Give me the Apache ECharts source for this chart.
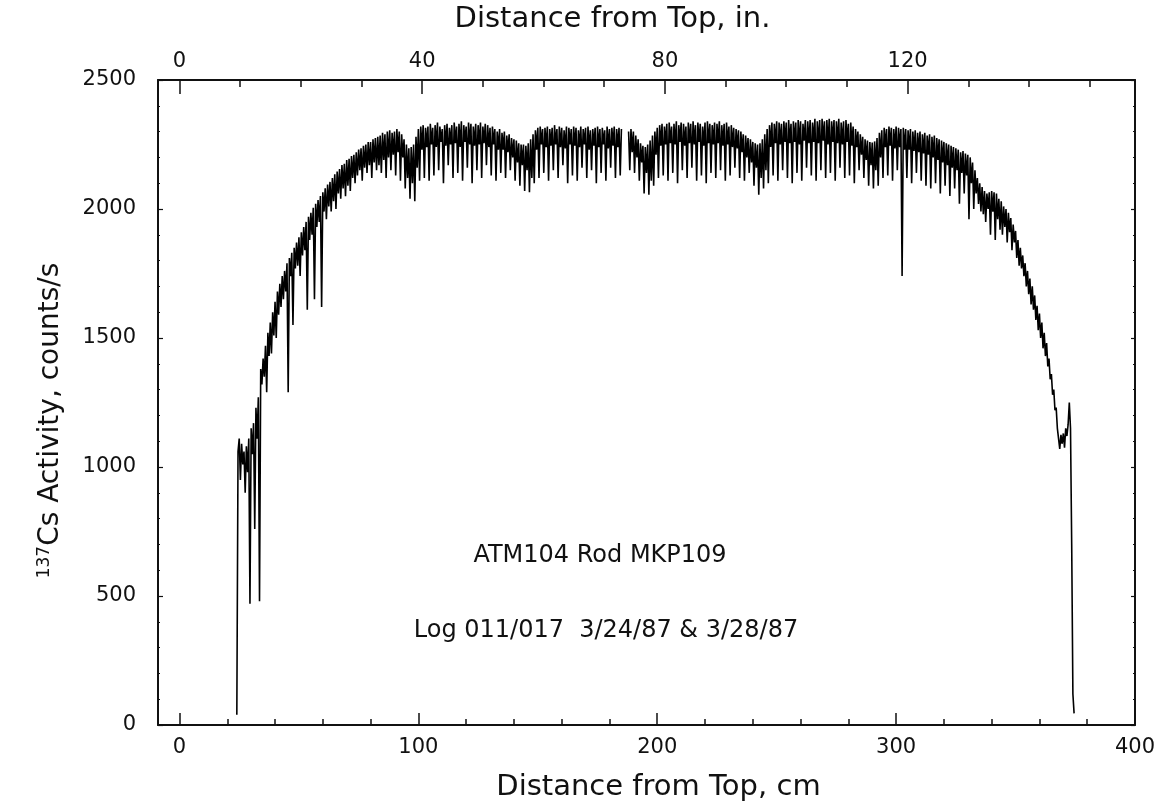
<!DOCTYPE html>
<html>
<head>
<meta charset="utf-8">
<script src="https://cdn.jsdelivr.net/npm/echarts@6/dist/echarts.min.js"></script>
<style>
html,body{margin:0;padding:0;background:#fff;}
#chart{width:1170px;height:811px;}
</style>
</head>
<body>
<div id="chart"></div>
<script>
// ---- data ----
// first sample position (cm); samples every 1 cm for countsAtCm, offset by 0.5 cm for countsAtHalfCm
var distStartCm = 24;
var countsAtCm = [
  40,1110,1090,1060,1080,1110,1150,1170,1230,1270,
  1380,1420,1470,1520,1560,1600,1640,1680,1710,1740,
  1760,1790,1810,1830,1850,1870,1890,1910,1930,1950,
  1970,1985,2005,2020,2035,2050,2065,2080,2095,2105,
  2120,2135,2145,2155,2170,2175,2190,2195,2205,2210,
  2220,2230,2235,2245,2250,2260,2260,2270,2275,2280,
  2285,2295,2290,2300,2305,2295,2300,2310,2300,2290,
  2270,2250,2235,2240,2250,2280,2310,2320,2325,2315,
  2320,2330,2315,2325,2335,2320,2310,2325,2330,2315,
  2325,2335,2320,2330,2340,2325,2320,2335,2330,2320,
  2330,2325,2335,2320,2330,2325,2315,2320,2310,2300,
  2310,2295,2300,2285,2290,2275,2270,2265,2255,2250,
  2250,2245,2255,2270,2290,2305,2315,2320,2310,2315,
  2320,2310,2315,2325,2310,2320,2315,2305,2320,2315,
  2310,2320,2315,2305,2320,2310,2315,2320,2305,2310,
  2315,2320,2310,2315,2305,2320,2310,2315,2320,2310,
  2315,2310,null,null,2300,2310,2300,2285,2270,2255,
  2245,2240,2250,2265,2285,2300,2315,2325,2330,2320,
  2330,2335,2320,2330,2340,2325,2335,2330,2320,2335,
  2330,2340,2325,2335,2330,2320,2335,2340,2330,2325,
  2335,2330,2340,2325,2330,2335,2320,2325,2315,2310,
  2305,2300,2290,2285,2275,2270,2260,2255,2250,2255,
  2270,2290,2310,2325,2335,2330,2340,2335,2330,2340,
  2335,2345,2330,2340,2335,2345,2340,2330,2345,2340,
  2345,2335,2350,2340,2345,2350,2340,2345,2350,2340,
  2345,2340,2350,2335,2340,2345,2330,2335,2320,2310,
  2300,2290,2280,2270,2265,2260,2258,2262,2275,2295,
  2305,2315,2310,2320,2315,2310,2320,2315,2310,2315,
  2310,2305,2310,2300,2305,2295,2300,2290,2295,2285,
  2290,2280,2285,2275,2270,2265,2260,2255,2250,2245,
  2240,2235,2230,2220,2225,2215,2210,2200,2180,2150,
  2120,2100,2085,2070,2060,2065,2070,2065,2060,2040,
  2030,2010,2000,1985,1965,1940,1915,1880,1850,1820,
  1790,1760,1730,1700,1665,1625,1595,1560,1520,1480,
  1420,1360,1300,1230,1150,1125,1130,1150,1165,1150,
  120
];
var countsAtHalfCm = [
  1060,950,1010,900,980,470,1050,760,1110,480,
  1320,1350,1290,1430,1440,1510,1500,1590,1620,1650,
  1680,1290,1740,1550,1770,1780,1740,1820,1840,1610,
  1880,1900,1650,1930,1950,1620,1990,1960,2010,1990,
  2030,2000,2060,2040,2080,2050,2090,2070,2120,2100,
  2130,2150,2110,2160,2140,2170,2120,2180,2150,2170,
  2140,2190,2120,2200,2150,2210,2130,2220,2110,2200,
  2080,2120,2040,2100,2030,2160,2110,2230,2120,2240,
  2110,2250,2130,2240,2150,2260,2100,2245,2170,2250,
  2120,2255,2140,2240,2110,2260,2160,2250,2100,2245,
  2150,2250,2120,2255,2170,2240,2130,2250,2110,2230,
  2140,2230,2120,2220,2150,2200,2110,2180,2090,2170,
  2070,2150,2065,2120,2100,2230,2120,2250,2140,2240,
  2110,2245,2150,2250,2120,2240,2170,2235,2100,2250,
  2130,2245,2110,2240,2160,2250,2120,2230,2150,2245,
  2100,2240,2140,2250,2110,2235,2160,2245,2120,2240,
  2130,null,null,null,2150,2220,2140,2200,2110,2180,
  2060,2140,2055,2110,2090,2210,2120,2245,2130,2250,
  2110,2255,2140,2250,2100,2260,2150,2245,2120,2255,
  2160,2250,2110,2260,2130,2245,2100,2255,2140,2250,
  2120,2255,2150,2245,2110,2250,2130,2240,2160,2235,
  2120,2220,2110,2200,2140,2180,2090,2160,2055,2120,
  2080,2150,2100,2240,2130,2255,2110,2250,2150,2260,
  2120,2255,2100,2260,2140,2250,2110,2265,2160,2255,
  2130,2260,2110,2255,2150,2265,2120,2250,2140,2260,
  2110,2255,2160,2250,2120,2260,2130,2245,2100,2240,
  2150,2210,2120,2190,2090,2170,2080,2150,2090,2200,
  2120,2240,2130,2245,2110,2235,2150,2240,1740,2230,
  2120,2230,2100,2225,2140,2220,2110,2215,2090,2210,
  2080,2200,2100,2190,2060,2180,2090,2170,2050,2160,
  2080,2150,2020,2140,2060,2130,1960,2100,2000,2060,
  2020,1990,1980,1950,2000,1900,1990,1880,1960,1920,
  1900,1930,1870,1910,1840,1870,1810,1780,1770,1740,
  1700,1670,1630,1610,1570,1530,1500,1460,1430,1390,
  1340,1280,1220,1150,1070,1090,1075,1120,1250,700,
  45
];
// axis ticks / labels
var cmLabels = [0, 100, 200, 300, 400];
var cmMinorTicks = [20,40,60,80,120,140,160,180,220,240,260,280,320,340,360,380];
var inLabels = [0, 40, 80, 120];
var inMinorTicks = [10,20,30,50,60,70,90,100,110,130,140,150];
var cmMin = -9, cmMax = 400;
var CM_PER_IN = 2.54;

// ---- build series points ----
var points = [];
for (var i = 0; i < countsAtCm.length; i++) {
  points.push([distStartCm + i, countsAtCm[i]]);
  points.push([distStartCm + i + 0.5, countsAtHalfCm[i]]);
}

var FONT = 'DejaVu Sans';
var INK = '#111';
var gridRect = {left: 158, top: 79, width: 977, height: 646};

var chart = echarts.init(document.getElementById('chart'), null, {renderer: 'canvas'});
chart.setOption({
  animation: false,
  backgroundColor: '#fff',
  textStyle: {fontFamily: FONT, color: INK},
  grid: [
    Object.assign({id: 'g0'}, gridRect),
    Object.assign({id: 'g1'}, gridRect)
  ],
  xAxis: [
    { // bottom, cm, labelled major ticks
      gridIndex: 0, type: 'value', position: 'bottom', min: cmMin, max: cmMax,
      axisLine: {show: true, onZero: false, lineStyle: {color: INK, width: 2}},
      axisTick: {show: true, inside: true, length: 12, customValues: cmLabels, lineStyle: {color: INK, width: 1.5}},
      axisLabel: {show: true, customValues: cmLabels, fontSize: 21, color: INK, margin: 12, fontFamily: FONT},
      splitLine: {show: false},
      name: 'Distance from Top, cm', nameLocation: 'middle', nameGap: 48,
      nameTextStyle: {fontSize: 29, color: INK, fontFamily: FONT, padding: [0, 0, 0, 24]}
    },
    { // top, inches
      gridIndex: 0, type: 'value', position: 'top', min: cmMin / CM_PER_IN, max: cmMax / CM_PER_IN,
      axisLine: {show: true, onZero: false, lineStyle: {color: INK, width: 2}},
      axisTick: {show: true, inside: true, length: 7, customValues: inMinorTicks, lineStyle: {color: INK, width: 1.5}},
      axisLabel: {show: true, customValues: inLabels, fontSize: 21, color: INK, margin: 8, fontFamily: FONT},
      splitLine: {show: false},
      name: 'Distance from Top, in.', nameLocation: 'middle', nameGap: 46,
      nameTextStyle: {fontSize: 29, color: INK, fontFamily: FONT, padding: [0, 68, 0, 0]}
    },
    { // bottom minor ticks
      gridIndex: 1, type: 'value', position: 'bottom', min: cmMin, max: cmMax,
      axisLine: {show: false, onZero: false},
      axisTick: {show: true, inside: true, length: 6, customValues: cmMinorTicks, lineStyle: {color: INK, width: 1.5}},
      axisLabel: {show: false}, splitLine: {show: false}
    },
    { // top major ticks (inches)
      gridIndex: 1, type: 'value', position: 'top', min: cmMin / CM_PER_IN, max: cmMax / CM_PER_IN,
      axisLine: {show: false, onZero: false},
      axisTick: {show: true, inside: true, length: 15, customValues: inLabels, lineStyle: {color: INK, width: 1.5}},
      axisLabel: {show: false}, splitLine: {show: false}
    }
  ],
  yAxis: [
    {
      gridIndex: 0, type: 'value', position: 'left', min: 0, max: 2500, interval: 500,
      axisLine: {show: true, onZero: false, lineStyle: {color: INK, width: 2}},
      axisTick: {show: true, inside: true, length: 5, lineStyle: {color: INK, width: 1.2}},
      minorTick: {show: true, splitNumber: 5, length: 2, lineStyle: {color: INK, width: 1}},
      axisLabel: {fontSize: 21, color: INK, margin: 22, fontFamily: FONT, formatter: function (v) { return String(v); }},
      splitLine: {show: false},
      name: '{sup|137}{main|Cs Activity, counts/s}', nameLocation: 'middle', nameGap: 92, nameRotate: 90,
      nameTextStyle: {
        color: INK, fontFamily: FONT, padding: [0, 36, 0, 0],
        rich: {
          sup: {fontSize: 17, fontFamily: FONT, color: INK, verticalAlign: 'top', padding: [0, 0, 13, 0]},
          main: {fontSize: 28, fontFamily: FONT, color: INK}
        }
      }
    },
    {
      gridIndex: 0, type: 'value', position: 'right', min: 0, max: 2500, interval: 500,
      axisLine: {show: true, onZero: false, lineStyle: {color: INK, width: 2}},
      axisTick: {show: true, inside: true, length: 4, lineStyle: {color: INK, width: 1.2}},
      minorTick: {show: true, splitNumber: 5, length: 2, lineStyle: {color: INK, width: 1}},
      axisLabel: {show: false}, splitLine: {show: false}
    },
    {
      gridIndex: 1, type: 'value', min: 0, max: 2500, show: false
    }
  ],
  series: [{
    type: 'line', xAxisIndex: 0, yAxisIndex: 0,
    data: points, showSymbol: false, symbol: 'none', connectNulls: false,
    sampling: null, silent: true,
    lineStyle: {color: '#000', width: 1.6}
  }],
  graphic: [
    {type: 'text', x: 600, y: 556, style: {text: 'ATM104 Rod MKP109', font: '24px "DejaVu Sans"', fill: INK, align: 'center', verticalAlign: 'middle'}},
    {type: 'text', x: 606, y: 631, style: {text: 'Log 011/017  3/24/87 & 3/28/87', font: '24px "DejaVu Sans"', fill: INK, align: 'center', verticalAlign: 'middle'}}
  ]
});
</script>
</body>
</html>
